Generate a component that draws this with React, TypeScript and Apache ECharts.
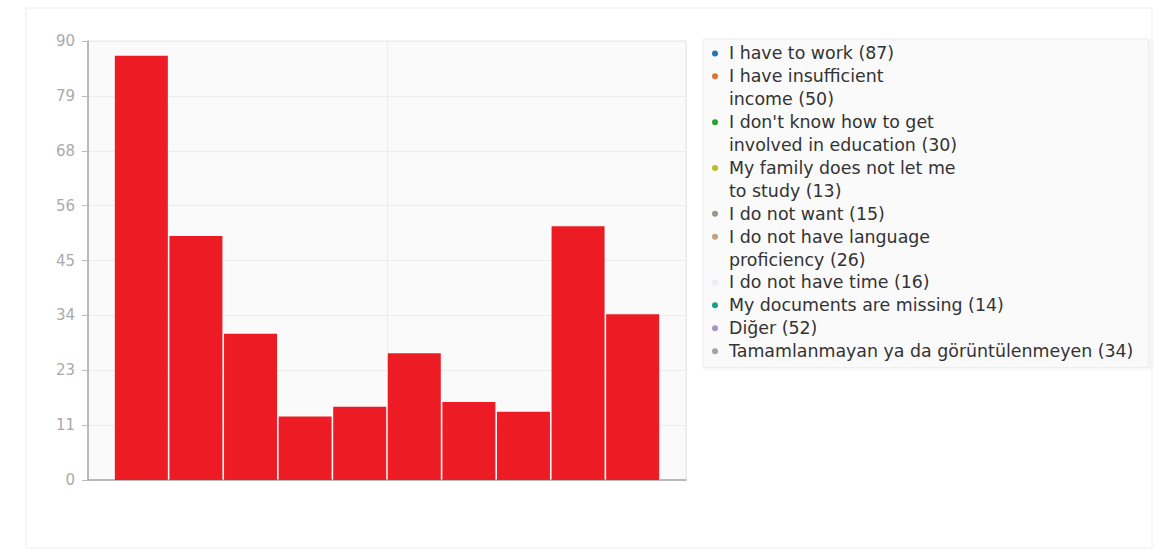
import React, { useEffect, useRef } from "react";
import * as echarts from "echarts";

const categories = [""];
const seriesNames = [
  "I have to work",
  "I have insufficient income",
  "I don't know how to get involved in education",
  "My family does not let me to study",
  "I do not want",
  "I do not have language proficiency",
  "I do not have time",
  "My documents are missing",
  "Diğer",
  "Tamamlanmayan ya da görüntülenmeyen",
];
const seriesValues = [87, 50, 30, 13, 15, 26, 16, 14, 52, 34];
const legendLines = [
  ["I have to work (87)"],
  ["I have insufficient", "income (50)"],
  ["I don't know how to get", "involved in education (30)"],
  ["My family does not let me", "to study (13)"],
  ["I do not want (15)"],
  ["I do not have language", "proficiency (26)"],
  ["I do not have time (16)"],
  ["My documents are missing (14)"],
  ["Diğer (52)"],
  ["Tamamlanmayan ya da görüntülenmeyen (34)"],
];
const legendColors = [
  "#1f77b4",
  "#e0703a",
  "#2ca02c",
  "#bcbd22",
  "#8a9f86",
  "#bba47e",
  "#ececf2",
  "#17a08a",
  "#a596c8",
  "#a3a3a3",
];
const yTickLabels = ["0", "11", "23", "34", "45", "56", "68", "79", "90"];
const barColor = "#ed1c24";

export default function App() {
  const ref = useRef<HTMLDivElement>(null);
  useEffect(() => {
    document.body.style.margin = "0";
    if (!ref.current) return;
    const chart = echarts.init(ref.current, null, { renderer: "svg" });
    const LH = 22.9;
    const rich: any = {
      t: { fontSize: 17.4, color: "#333", lineHeight: LH, fontFamily: "DejaVu Sans" },
      sp: { width: 11, lineHeight: LH },
      pad: { width: 17, lineHeight: LH },
    };
    legendColors.forEach((c, i) => {
      rich["d" + i] = {
        width: 6,
        height: 6,
        backgroundColor: c,
        borderRadius: 3,
        lineHeight: LH,
      };
    });
    const option: any = {
      animation: false,
      backgroundColor: "#ffffff",
      graphic: [
        {
          type: "rect",
          z: -10,
          silent: true,
          shape: { x: 26, y: 8, width: 1126, height: 540 },
          style: { fill: "#ffffff", stroke: "#ececec", lineWidth: 1 },
        },
      ],
      grid: {
        left: 88,
        right: 477,
        top: 41,
        bottom: 72,
        show: true,
        backgroundColor: "#fafafa",
        borderColor: "#e6e6e6",
        borderWidth: 1,
      },
      legend: {
        orient: "vertical",
        left: 703,
        top: 39,
        itemGap: 0,
        itemWidth: 0,
        itemHeight: 0,
        icon: "none",
        selectedMode: false,
        padding: [3, 15, 5, 4],
        backgroundColor: "#fafafa",
        borderColor: "#eeeeee",
        borderWidth: 1,
        shadowColor: "rgba(0,0,0,0.08)",
        shadowBlur: 3,
        shadowOffsetX: 1,
        shadowOffsetY: 1,
        data: seriesNames,
        formatter: (name: string) => {
          const i = seriesNames.indexOf(name);
          const lines = legendLines[i];
          return lines
            .map((l, k) =>
              k === 0 ? `{d${i}| }{sp| }{t|${l}}` : `{pad| }{t|${l}}`
            )
            .join("\n");
        },
        textStyle: { rich, lineHeight: LH, fontSize: 17.4 },
      },
      xAxis: [
        {
          type: "category",
          data: categories,
          axisLine: { lineStyle: { color: "#a8a8a8", width: 1.5 } },
          axisTick: { show: false },
          axisLabel: { show: false },
          splitLine: { show: false },
        },
        {
          type: "value",
          min: 0,
          max: 2,
          interval: 1,
          position: "bottom",
          show: true,
          axisLine: { show: false },
          axisTick: { show: false },
          axisLabel: { show: false },
          splitLine: { show: true, lineStyle: { color: "#ececec", width: 1 } },
        },
      ],
      yAxis: {
        type: "value",
        min: 0,
        max: 90,
        interval: 11.25,
        axisLine: { show: true, lineStyle: { color: "#a8a8a8", width: 1.5 } },
        axisTick: { show: true, length: 6, lineStyle: { color: "#bbbbbb" } },
        axisLabel: {
          color: "#aaaaaa",
          fontSize: 15,
          fontFamily: "DejaVu Sans",
          margin: 13,
          formatter: (_v: number, idx: number) => yTickLabels[idx] ?? "",
        },
        splitLine: { show: true, lineStyle: { color: "#ececec", width: 1 } },
      },
      series: seriesNames.map((name, i) => ({
        name,
        type: "bar",
        xAxisIndex: 0,
        data: [seriesValues[i]],
        barWidth: 53,
        barGap: "3%",
        itemStyle: { color: barColor },
        emphasis: { disabled: true },
      })),
    };
    chart.setOption(option);
    return () => chart.dispose();
  }, []);
  return <div ref={ref} style={{ width: 1163, height: 552 }} />;
}
